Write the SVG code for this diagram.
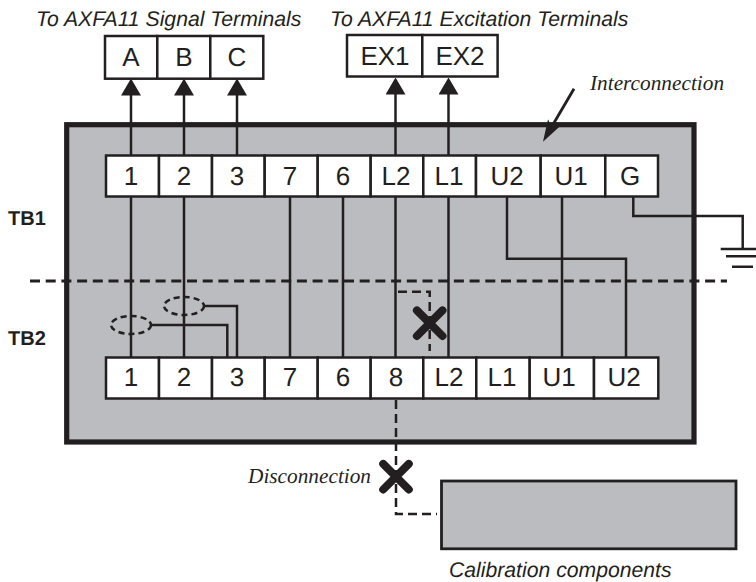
<svg xmlns="http://www.w3.org/2000/svg" width="756" height="582" viewBox="0 0 756 582">
<style>
text{fill:#231f20;text-rendering:geometricPrecision}
.s{font-family:"Liberation Sans",Arial,sans-serif}
.t{font-size:26px;text-anchor:middle}
.i{font-size:21.200px;font-style:italic}
.r{font-family:"Liberation Serif","Times New Roman",serif;font-size:21.300px;font-style:italic}
.b{font-size:20px;font-weight:bold}
.c{fill:#fff;stroke:#231f20;stroke-width:2.500}
.w{fill:none;stroke:#231f20;stroke-width:2.500}
.d{fill:none;stroke:#231f20;stroke-width:2.500;stroke-dasharray:9 5}
.e{fill:none;stroke:#231f20;stroke-width:2.500;stroke-dasharray:6 4}
.x{fill:none;stroke:#231f20;stroke-width:8;stroke-linecap:round}
</style>
<defs>
<marker id="ah" markerUnits="userSpaceOnUse" markerWidth="17" markerHeight="20" refX="10" refY="10" orient="auto" viewBox="3 0 17 20"><path d="M3 0L20 10L3 20Z" fill="#231f20"/></marker>
<marker id="sa" markerUnits="userSpaceOnUse" markerWidth="22" markerHeight="14" refX="14" refY="7" orient="auto" viewBox="0 0 22 14"><path d="M0 0L22 7L0 14L5 7Z" fill="#231f20"/></marker>
</defs>
<g id="enclosure"><rect x="66.700" y="124.700" width="627.300" height="317.300" fill="#bbbcbf" stroke="#231f20" stroke-width="5.200"/></g>
<g id="calibration"><rect x="441.500" y="481" width="294.500" height="67.800" fill="#bbbcbf" stroke="#231f20" stroke-width="2.800"/></g>
<g id="connectors">
<path class="w" d="M131 155V88.500" marker-end="url(#ah)"/>
<path class="w" d="M184 155V88.500" marker-end="url(#ah)"/>
<path class="w" d="M237 155V88.500" marker-end="url(#ah)"/>
<path class="w" d="M395.500 155V87.500" marker-end="url(#ah)"/>
<path class="w" d="M448.500 155V87.500" marker-end="url(#ah)"/>
<path class="w" d="M131 196V357M184 196V357M290 196V357M343 196V357M395.500 196V357M448.500 196V357M562 196V357M507 196V258.700H626V357M633.300 196V216H742.700V249"/>
<path class="w" d="M720.700 249H756M726 256.300H756M732 266.700H753"/>
<path class="w" d="M150.700 325H227.300V357M203 306H237V357"/>
<path fill="none" stroke="#231f20" stroke-width="2.800" d="M574 88.700L547 134.800" marker-end="url(#sa)"/>
<path d="M30 281H727" fill="none" stroke="#231f20" stroke-width="3" stroke-dasharray="10 5.700"/>
<ellipse class="e" cx="131" cy="325" rx="20" ry="9"/>
<ellipse class="e" cx="184" cy="306" rx="20" ry="9"/>
<path class="d" d="M398 291.700H429.700V351"/>
<path class="d" d="M396 400V514H437"/>
<path class="x" d="M416.900 310.400L442.500 336M442.500 310.400L416.900 336"/>
<path class="x" d="M383.200 463.900L408.800 489.500M408.800 463.900L383.200 489.500"/>
</g>
<g id="signal-terminals">
<rect class="c" x="105" y="36" width="52.300" height="42.700"/><rect class="c" x="157.300" y="36" width="53" height="42.700"/><rect class="c" x="210.300" y="36" width="53" height="42.700"/>
<text class="s t" x="131" y="66">A</text><text class="s t" x="184" y="66">B</text><text class="s t" x="237" y="66">C</text>
</g>
<g id="excitation-terminals">
<rect class="c" x="347" y="35" width="75.300" height="41.500"/><rect class="c" x="422.300" y="35" width="75.300" height="41.500"/>
<text class="s t" x="385" y="65">EX1</text><text class="s t" x="460" y="65">EX2</text>
</g>
<g id="tb1">
<rect class="c" x="106" y="155.500" width="53" height="41"/><rect class="c" x="159" y="155.500" width="53" height="41"/><rect class="c" x="212" y="155.500" width="52.700" height="41"/><rect class="c" x="264.700" y="155.500" width="53" height="41"/><rect class="c" x="317.700" y="155.500" width="53" height="41"/><rect class="c" x="370.700" y="155.500" width="52.600" height="41"/><rect class="c" x="423.300" y="155.500" width="52.700" height="41"/><rect class="c" x="476" y="155.500" width="64.700" height="41"/><rect class="c" x="540.700" y="155.500" width="64.600" height="41"/><rect class="c" x="605.300" y="155.500" width="52.700" height="41"/>
<text class="s t" x="131" y="185">1</text><text class="s t" x="184" y="185">2</text><text class="s t" x="237" y="185">3</text><text class="s t" x="290" y="185">7</text><text class="s t" x="343" y="185">6</text><text class="s t" x="396" y="185">L2</text><text class="s t" x="449" y="185">L1</text><text class="s t" x="507" y="185">U2</text><text class="s t" x="571" y="185">U1</text><text class="s t" x="630" y="185">G</text>
</g>
<g id="tb2">
<rect class="c" x="106" y="357.500" width="53" height="41"/><rect class="c" x="159" y="357.500" width="53" height="41"/><rect class="c" x="212" y="357.500" width="52.700" height="41"/><rect class="c" x="264.700" y="357.500" width="53" height="41"/><rect class="c" x="317.700" y="357.500" width="53" height="41"/><rect class="c" x="370.700" y="357.500" width="52.600" height="41"/><rect class="c" x="423.300" y="357.500" width="53" height="41"/><rect class="c" x="476.300" y="357.500" width="53.400" height="41"/><rect class="c" x="529.700" y="357.500" width="64.300" height="41"/><rect class="c" x="594" y="357.500" width="64.300" height="41"/>
<text class="s t" x="131" y="386">1</text><text class="s t" x="184" y="386">2</text><text class="s t" x="237" y="386">3</text><text class="s t" x="290" y="386">7</text><text class="s t" x="343" y="386">6</text><text class="s t" x="396" y="386">8</text><text class="s t" x="449" y="386">L2</text><text class="s t" x="502" y="386">L1</text><text class="s t" x="559" y="386">U1</text><text class="s t" x="624" y="386">U2</text>
</g>
<g id="labels">
<text class="s i" x="36" y="26">To AXFA11 Signal Terminals</text>
<text class="s i" x="330" y="26">To AXFA11 Excitation Terminals</text>
<text class="r" x="590" y="90">Interconnection</text>
<text class="r" x="248" y="483">Disconnection</text>
<text class="s i" x="449" y="576.500">Calibration components</text>
<text class="s b" x="8" y="225">TB1</text>
<text class="s b" x="8" y="345">TB2</text>
</g>
</svg>
